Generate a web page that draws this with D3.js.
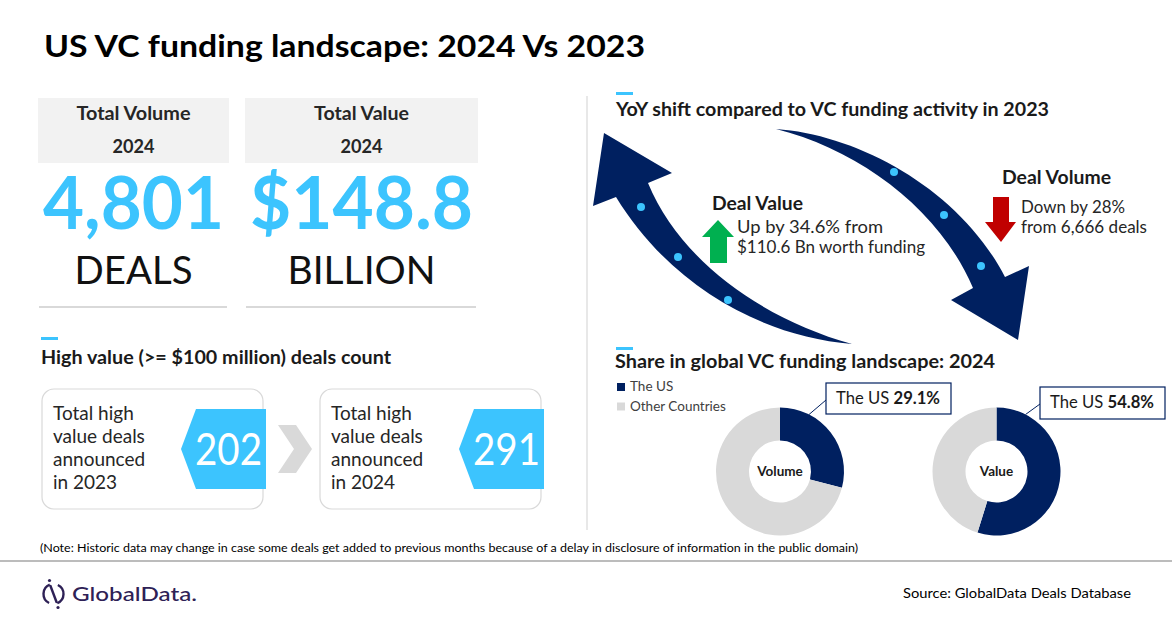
<!DOCTYPE html>
<html>
<head>
<meta charset="utf-8">
<script src="https://cdn.jsdelivr.net/npm/d3@7"></script>
<style>
  body { margin: 0; background: #fff; }
  text { font-family: Lato, "Open Sans", sans-serif; }
</style>
</head>
<body>
<svg id="chart" width="1172" height="628"></svg>
<script>
// values
const kpiLabels = ["Total Volume", "Total Value"];
const kpiYears = ["2024", "2024"];
const kpiValues = ["4,801", "$148.8"];
const kpiUnits = ["DEALS", "BILLION"];

const highValueYears = ["2023", "2024"];
const highValueCounts = [202, 291];

const shiftMetrics = ["Deal Value", "Deal Volume"];
const shiftNotes = [["Up by 34.6% from", "$110.6 Bn worth funding"], ["Down by 28%", "from 6,666 deals"]];

const shareCategories = ["The US", "Other Countries"];
const shareCharts = ["Volume", "Value"];
const usShare = [29.1, 54.8];

const navy = "#002060", cyan = "#3cc4fe", grey = "#d9d9d9", ink = "#1a1a1a";

const svg = d3.select("#chart");

function fit(t, w) {
  return t.attr("textLength", w).attr("lengthAdjust", "spacingAndGlyphs");
}

// title
fit(svg.append("text").attr("x", 44).attr("y", 57)
  .attr("font-size", 31).attr("font-weight", 700).attr("fill", "#000")
  .text("US VC funding landscape: 2024 Vs 2023"), 601);

// ---- KPI tiles
const kpiX = [38, 245], kpiW = [191, 233];
const labelW = [114, 95], valueW = [181, 223], unitW = [118, 148];

kpiLabels.forEach(function (lab, i) {
  const g = svg.append("g").attr("transform", "translate(" + kpiX[i] + ",0)");
  const cx = kpiW[i] / 2;
  g.append("rect").attr("y", 98).attr("width", kpiW[i]).attr("height", 65).attr("fill", "#f2f2f2");
  fit(g.append("text").attr("x", cx).attr("y", 120).attr("text-anchor", "middle")
    .attr("font-size", 18).attr("font-weight", 700).attr("fill", "#262626").text(lab), labelW[i]);
  fit(g.append("text").attr("x", cx).attr("y", 153).attr("text-anchor", "middle")
    .attr("font-size", 18).attr("font-weight", 700).attr("fill", "#262626").text(kpiYears[i]), 42);
  fit(g.append("text").attr("x", cx).attr("y", 229).attr("text-anchor", "middle")
    .attr("font-size", 72).attr("font-weight", 700).attr("fill", cyan).text(kpiValues[i]), valueW[i]);
  fit(g.append("text").attr("x", cx).attr("y", 284).attr("text-anchor", "middle")
    .attr("font-size", 39).attr("fill", "#111").text(kpiUnits[i]), unitW[i]);
  g.append("line").attr("x1", 1).attr("x2", kpiW[i] - 2).attr("y1", 307).attr("y2", 307)
    .attr("stroke", grey).attr("stroke-width", 2);
});

// ---- high value deals
svg.append("rect").attr("x", 41).attr("y", 337).attr("width", 17).attr("height", 3).attr("fill", cyan);
fit(svg.append("text").attr("x", 41).attr("y", 364).attr("font-size", 18).attr("font-weight", 700)
  .attr("fill", ink).text("High value (>= $100 million) deals count"), 350);

const hvX = [42, 320];
highValueYears.forEach(function (yr, i) {
  const x = hvX[i];
  svg.append("rect").attr("x", x).attr("y", 389).attr("width", 221).attr("height", 120)
    .attr("rx", 12).attr("fill", "#fff").attr("stroke", grey).attr("stroke-width", 1.2);
  const lines = ["Total high", "value deals", "announced", "in " + yr];
  svg.append("text").attr("font-size", 19).attr("fill", "#262626")
    .selectAll("tspan").data(lines).join("tspan")
    .attr("x", x + 11).attr("y", function (d, k) { return 420 + k * 23; })
    .text(function (d) { return d; });

  const x0 = x + 139, x1 = x + 224;
  const p = d3.path();
  p.moveTo(x0, 449); p.lineTo(x0 + 15, 409); p.lineTo(x1, 409);
  p.lineTo(x1, 489); p.lineTo(x0 + 15, 489); p.closePath();
  svg.append("path").attr("d", p.toString()).attr("fill", cyan);
  fit(svg.append("text").attr("x", (x0 + x1) / 2 + 5).attr("y", 465).attr("text-anchor", "middle")
    .attr("font-size", 44).attr("fill", "#fff").text(highValueCounts[i]), 67);
});

// grey chevron between the two boxes
const chev = d3.path();
chev.moveTo(278, 425); chev.lineTo(296, 425); chev.lineTo(312, 449);
chev.lineTo(296, 473); chev.lineTo(278, 473); chev.lineTo(294, 449); chev.closePath();
svg.append("path").attr("d", chev.toString()).attr("fill", grey);

// ---- right panel
svg.append("line").attr("x1", 587).attr("x2", 587).attr("y1", 96).attr("y2", 530)
  .attr("stroke", grey).attr("stroke-width", 1.2);

svg.append("rect").attr("x", 616).attr("y", 92).attr("width", 17).attr("height", 3).attr("fill", cyan);
fit(svg.append("text").attr("x", 616).attr("y", 116).attr("font-size", 18).attr("font-weight", 700)
  .attr("fill", ink).text("YoY shift compared to VC funding activity in 2023"), 433);

// curved arrows
const upArrow = d3.path();
upArrow.moveTo(852, 344);
upArrow.bezierCurveTo(760, 336, 670, 285, 616, 197);
upArrow.lineTo(593, 206); upArrow.lineTo(604, 133); upArrow.lineTo(672, 173); upArrow.lineTo(648, 183);
upArrow.bezierCurveTo(680, 260, 760, 318, 852, 344);
upArrow.closePath();
svg.append("path").attr("d", upArrow.toString()).attr("fill", navy);

const downArrow = d3.path();
downArrow.moveTo(776, 129);
downArrow.bezierCurveTo(860, 135, 960, 190, 1005, 277);
downArrow.lineTo(1029, 266); downArrow.lineTo(1018, 340); downArrow.lineTo(951, 300); downArrow.lineTo(973, 288);
downArrow.bezierCurveTo(940, 210, 860, 150, 776, 129);
downArrow.closePath();
svg.append("path").attr("d", downArrow.toString()).attr("fill", navy);

const arrowDots = [[641, 207], [678, 257], [728, 300], [894, 172], [944, 215], [981, 266]];
svg.selectAll("circle.dot").data(arrowDots).join("circle").attr("class", "dot")
  .attr("cx", function (d) { return d[0]; }).attr("cy", function (d) { return d[1]; })
  .attr("r", 4).attr("fill", cyan);

// metric labels
const metricX = [712, 1002], metricY = [210, 184], metricW = [91, 109];
const noteX = [737, 1021], noteY = [233, 213], noteW = [[146, 188], [104, 126]];
shiftMetrics.forEach(function (m, i) {
  fit(svg.append("text").attr("x", metricX[i]).attr("y", metricY[i]).attr("font-size", 19)
    .attr("font-weight", 700).attr("fill", ink).text(m), metricW[i]);
  shiftNotes[i].forEach(function (line, k) {
    fit(svg.append("text").attr("x", noteX[i]).attr("y", noteY[i] + k * 20).attr("font-size", 17)
      .attr("fill", "#262626").text(line), noteW[i][k]);
  });
});

// green up / red down block arrows
const gArr = d3.path();
gArr.moveTo(710, 263); gArr.lineTo(710, 237); gArr.lineTo(702, 237); gArr.lineTo(718, 220);
gArr.lineTo(734, 237); gArr.lineTo(727, 237); gArr.lineTo(727, 263); gArr.closePath();
svg.append("path").attr("d", gArr.toString()).attr("fill", "#00b050");

const rArr = d3.path();
rArr.moveTo(993, 197); rArr.lineTo(1009, 197); rArr.lineTo(1009, 222); rArr.lineTo(1016, 222);
rArr.lineTo(1001, 242); rArr.lineTo(985, 222); rArr.lineTo(993, 222); rArr.closePath();
svg.append("path").attr("d", rArr.toString()).attr("fill", "#c00000");

// ---- share donuts
svg.append("rect").attr("x", 616).attr("y", 347).attr("width", 17).attr("height", 3).attr("fill", cyan);
fit(svg.append("text").attr("x", 615).attr("y", 368).attr("font-size", 18).attr("font-weight", 700)
  .attr("fill", ink).text("Share in global VC funding landscape: 2024"), 380);

const shareColor = d3.scaleOrdinal().domain(shareCategories).range([navy, grey]);

const legend = svg.append("g").selectAll("g").data(shareCategories).join("g")
  .attr("transform", function (d, i) { return "translate(617," + (383 + i * 19.5) + ")"; });
legend.append("rect").attr("width", 8).attr("height", 8).attr("fill", function (d) { return shareColor(d); });
legend.append("text").attr("x", 13).attr("y", 8).attr("font-size", 13.5).attr("fill", "#404040")
  .text(function (d) { return d; });

const pie = d3.pie().sort(null).value(function (d) { return d.v; });
const arc = d3.arc().innerRadius(31).outerRadius(64);
const donutX = [780, 996.5], donutY = 471.5;
const calloutBox = [[826, 383, 125, 31], [1040, 387, 125, 32]];

shareCharts.forEach(function (name, i) {
  const g = svg.append("g").attr("transform", "translate(" + donutX[i] + "," + donutY + ")");
  const slices = [{ k: shareCategories[0], v: usShare[i] }, { k: shareCategories[1], v: 100 - usShare[i] }];
  g.selectAll("path").data(pie(slices)).join("path")
    .attr("d", arc).attr("fill", function (d) { return shareColor(d.data.k); });
  g.append("text").attr("y", 4).attr("text-anchor", "middle").attr("font-size", 13.5)
    .attr("font-weight", 700).attr("fill", ink).text(name);

  // callout
  const b = calloutBox[i];
  const start = d3.pointRadial(27 * Math.PI / 180, 64);
  svg.append("line")
    .attr("x1", donutX[i] + start[0]).attr("y1", donutY + start[1])
    .attr("x2", b[0]).attr("y2", b[1] + 17)
    .attr("stroke", navy).attr("stroke-width", 1);
  svg.append("rect").attr("x", b[0]).attr("y", b[1]).attr("width", b[2]).attr("height", b[3])
    .attr("fill", "#fff").attr("stroke", navy).attr("stroke-width", 1.2);
  const t = svg.append("text").attr("x", b[0] + 10).attr("y", b[1] + 21).attr("font-size", 16.5).attr("fill", ink);
  t.append("tspan").text(shareCategories[0] + " ");
  t.append("tspan").attr("font-weight", 700).text(d3.format(".1f")(usShare[i]) + "%");
  fit(t, 104);
});

// ---- footer
fit(svg.append("text").attr("x", 40).attr("y", 552).attr("font-size", 11.5).attr("fill", "#000")
  .text("(Note:  Historic data may change in case some deals get added to previous months because of a delay in disclosure of information in the public domain)"), 818);

svg.append("line").attr("x1", 0).attr("x2", 1172).attr("y1", 561).attr("y2", 561)
  .attr("stroke", "#a6a6a6").attr("stroke-width", 1.5);

// logo
const logoInk = "#2e2156";
const logo = svg.append("g").attr("transform", "translate(53.5,594)");
const ring = d3.arc().innerRadius(8.8).outerRadius(11.2);
logo.append("path").attr("d", ring({ startAngle: 0.45, endAngle: 2.75 })).attr("fill", logoInk);
logo.append("path").attr("d", ring({ startAngle: 3.6, endAngle: 5.9 })).attr("fill", logoInk);
logo.append("line").attr("x1", -3).attr("y1", -8).attr("x2", 3).attr("y2", 8)
  .attr("stroke", logoInk).attr("stroke-width", 2.4).attr("stroke-linecap", "round");
logo.append("circle").attr("cx", -4).attr("cy", -13.5).attr("r", 1.6).attr("fill", logoInk);
logo.append("circle").attr("cx", 4.5).attr("cy", 13.5).attr("r", 1.6).attr("fill", logoInk);
fit(svg.append("text").attr("x", 72).attr("y", 601).attr("font-family", "Inter, Lato, sans-serif")
  .attr("font-size", 19.5).attr("font-weight", 500).attr("fill", logoInk).text("GlobalData."), 125);

fit(svg.append("text").attr("x", 1131).attr("y", 598).attr("text-anchor", "end").attr("font-size", 13.5)
  .attr("fill", "#000").text("Source:  GlobalData Deals Database"), 228);
</script>
</body>
</html>
